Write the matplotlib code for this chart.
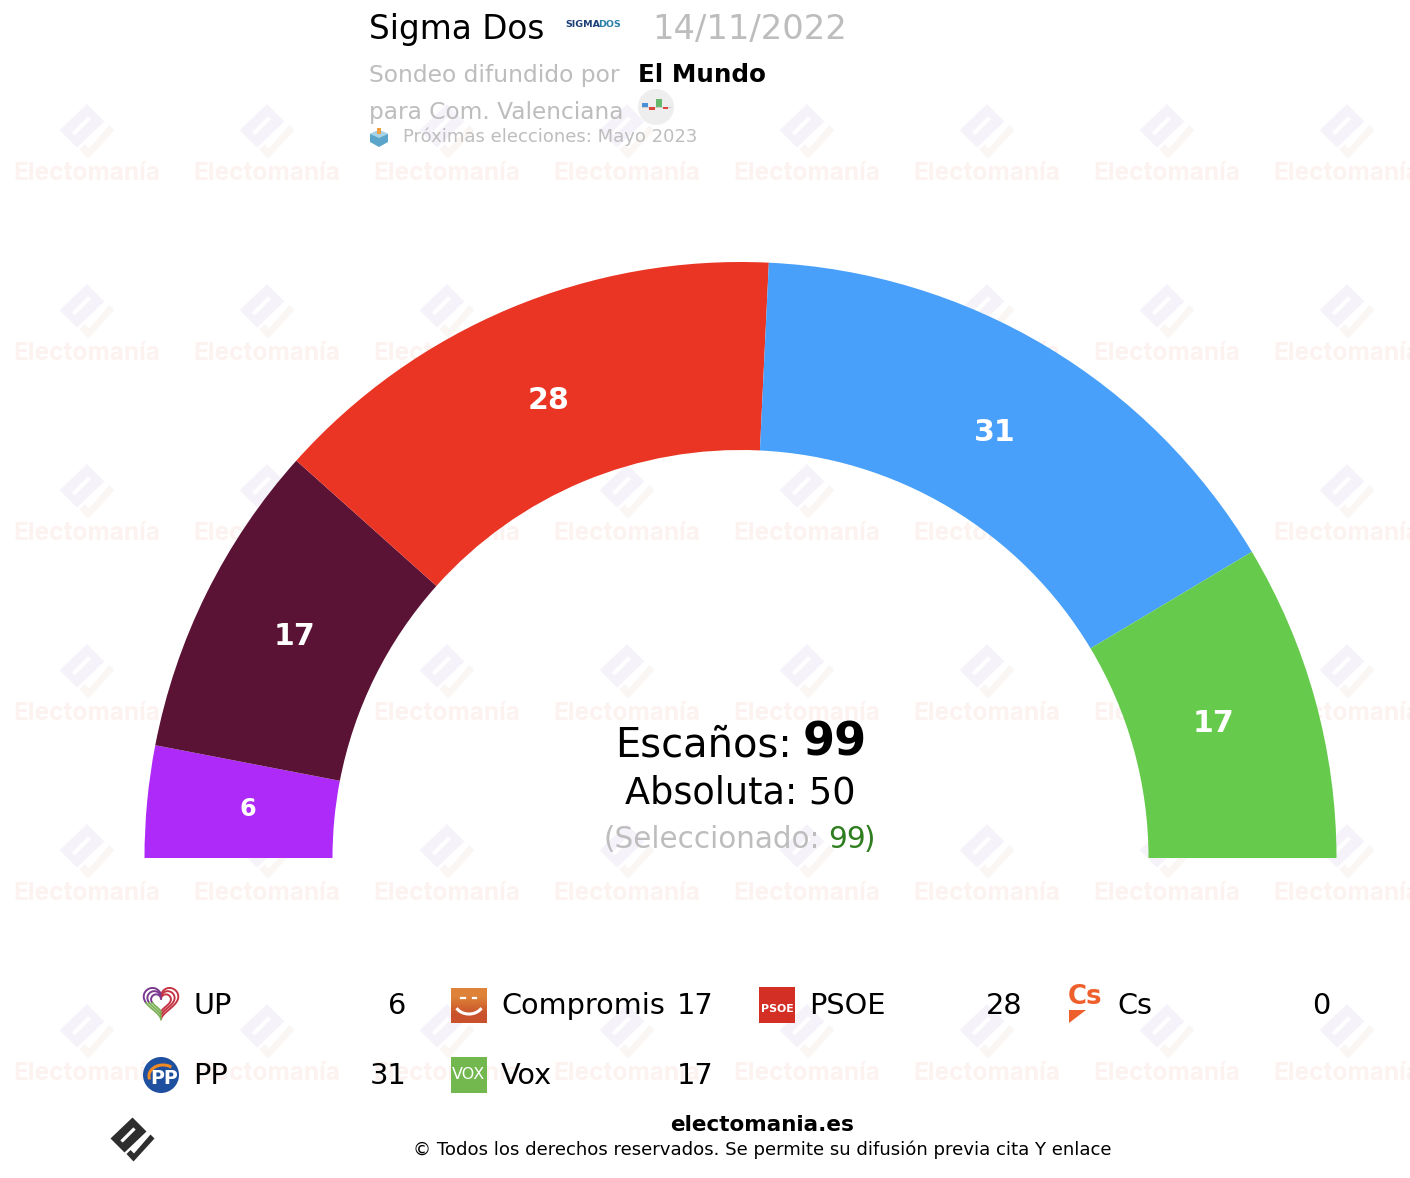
"""Sigma Dos seat projection for Com. Valenciana, parliament arc with legend."""

import matplotlib

matplotlib.use("Agg")
import matplotlib.pyplot as plt
import numpy as np
from matplotlib.patches import Circle, Polygon, Rectangle, Wedge

W, H = 1410, 1178

parties = ["UP", "Compromis", "PSOE", "Cs", "PP", "Vox"]
seats = [6, 17, 28, 0, 31, 17]
party_colors = ["#ae2af8", "#5a1235", "#ea3524", "#f05a28", "#48a0fa", "#66cb4c"]
total_seats = 99
majority = 50
selected = 99

CX, CY = 740.5, 858
R_OUT, R_IN = 596, 408
GREY = "#bdbdbd"
# radial spot and vertical nudge of each seat label, as placed in the reference
label_r = [495, 498, 496, 496, 496, 491]
label_dy = [-2, 0, 0, 0, 0, -4]

fig = plt.figure(figsize=(W / 100, H / 100), dpi=100)
ax = fig.add_axes([0, 0, 1, 1])
ax.set_xlim(0, W)
ax.set_ylim(0, H)
ax.axis("off")


def Y(py):
    # reference was measured from the top
    return H - py


def px(size):
    return size * 0.72


def text(x, y, s, size, color="black", weight="normal", ha="left", zorder=5, **kw):
    # va=center sits a bit high against the reference
    return ax.text(x, Y(y + 1.5), s, fontsize=px(size), color=color, fontweight=weight,
                   ha=ha, va="center", zorder=zorder, family="DejaVu Sans", **kw)


def draw_logo(cx, cy, scale, body, check, slot="white", zorder=1):
    def pts(rel):
        return [(cx + scale * a, Y(cy + scale * b)) for a, b in rel]

    ax.add_patch(Polygon(pts([(0, -22.5), (14, -8.5), (-8, 12.5), (-22, -1.5)]), fc=body, ec="none", zorder=zorder))
    ax.add_patch(Polygon(pts([(3.2, -10.4), (0.8, -12.6), (-12.2, 0.4), (-9.8, 2.6)]), fc=slot, ec="none", zorder=zorder))
    ax.add_patch(Polygon(pts([(22, -1.5), (1, 21.5), (-6, 14), (-2, 10), (1.5, 13.5), (18, -5.5)]),
                         fc=check, ec="none", zorder=zorder))


# ── watermark tiles ──
for tile_x in range(87, 1410 + 100, 180):
    for tile_y in range(132, 1178, 180):
        draw_logo(tile_x, tile_y, 1.24, "#f5f2f9", "#faf6f3", zorder=1)
    for tile_y in range(-8, 1178, 180):
        ax.text(tile_x, Y(tile_y + 1.5), "Electomanía", fontsize=px(24.5), color="#fcf2ef", fontweight="bold",
                ha="center", va="center", zorder=1, family="Inter", clip_on=True)

# ── seat arc ──
cum = 0
for i, (name, n, color) in enumerate(zip(parties, seats, party_colors)):
    if n > 0:
        a1 = 180 - (cum + n) / total_seats * 180
        a2 = 180 - cum / total_seats * 180
        ax.add_patch(Wedge((CX, Y(CY)), R_OUT, a1, a2, width=R_OUT - R_IN, fc=color, ec="none", zorder=3))
        mid = np.radians((a1 + a2) / 2)
        lx = CX + label_r[i] * np.cos(mid)
        ly = CY - label_r[i] * np.sin(mid) + label_dy[i]
        text(lx, ly - 1.5, str(n), 24 if n < 10 else 30, color="white", weight="bold", ha="center", zorder=4)
    cum += n

# ── centre totals ──
text(615, 744, "Escaños:", 40)
text(803, 742, str(total_seats), 46, weight="bold")
text(625, 792, f"Absoluta: {majority}", 36.6)
text(604, 838, "(Seleccionado:", 29.5, color=GREY)
text(828, 838, str(selected), 29.5, color="#2e7d1e")
text(864, 838, ")", 29.5, color="#2e7d1e")

# ── header ──
text(369, 28, "Sigma Dos", 32.8)
text(565, 23, "SIGMA", 9.5, color="#1c3f78", weight="bold")
text(598, 23, "DOS", 9.5, color="#2b80a8", weight="bold")
text(652, 28, "14/11/2022", 33.8, color=GREY)
text(369, 74, "Sondeo difundido por", 23.4, color=GREY)
text(638, 74, "El Mundo", 24.6, weight="bold")
text(369, 111, "para Com. Valenciana", 23.3, color=GREY)
text(403, 135, "Próximas elecciones: Mayo 2023", 18, color=GREY)

# small poll chart badge
ax.add_patch(Circle((656, Y(107)), 18, fc="#eeeeee", ec="none", zorder=4))
ax.plot([642, 670], [Y(107), Y(107)], color="#cccccc", lw=0.8, zorder=5)
for bx, by, bw, bh, bc in [(642, 103, 6, 4, "#4a90d9"), (649, 107, 6, 3, "#d9483b"),
                           (656, 99, 6, 8, "#66b96a"), (663, 107, 5, 2, "#d9483b")]:
    ax.add_patch(Rectangle((bx, Y(by + bh)), bw, bh, fc=bc, ec="none", zorder=5))

# ballot box
ax.add_patch(Polygon([(370, Y(134)), (379, Y(130)), (388, Y(134)), (388, Y(142)), (379, Y(147)), (370, Y(142))],
                     fc="#5aa5c9", ec="none", zorder=5))
ax.add_patch(Polygon([(370, Y(134)), (379, Y(138)), (388, Y(134)), (379, Y(130))], fc="#a6d3e8", ec="none", zorder=5))
ax.add_patch(Rectangle((377, Y(134)), 4, 6, fc="#f0a040", ec="none", zorder=6))

# ── legend ──
icon_x = [143, 451, 759, 1067, 143, 451]
row_y = [1005, 1005, 1005, 1005, 1075, 1075]
for i, (name, n) in enumerate(zip(parties, seats)):
    x0, y0 = icon_x[i], row_y[i]
    text(x0 + 50, y0, name, 28.8)
    text(x0 + 263, y0, str(n), 28.8, ha="right")


def draw_heart(cx, cy):
    t = np.linspace(0, 2 * np.pi, 200)
    hx = 16 * np.sin(t) ** 3
    hy = 13 * np.cos(t) - 5 * np.cos(2 * t) - 2 * np.cos(3 * t) - np.cos(4 * t)
    for k in [1.08, 0.85, 0.62]:
        xs = cx + k * hx
        ys = Y(cy) + k * (hy + 2)
        right = t < np.pi
        upper = (t >= np.pi) & (hy > -2)
        lower = (t >= np.pi) & (hy <= -2)
        ax.plot(xs[right], ys[right], color="#c53545", lw=1.4, zorder=5)
        ax.plot(xs[upper], ys[upper], color="#7b3a8f", lw=1.4, zorder=5)
        ax.plot(xs[lower], ys[lower], color="#7fb35a", lw=1.4, zorder=5)


draw_heart(161, 1003)

# Compromis square
ax.imshow(np.array([[0.0], [1.0]]), extent=(451, 487, Y(1023), Y(988)), aspect="auto", zorder=5,
          cmap=matplotlib.colors.LinearSegmentedColormap.from_list("cp", ["#dd8238", "#c9522c"]),
          interpolation="bilinear")
ax.set_xlim(0, W)
ax.set_ylim(0, H)
smile = np.linspace(np.radians(215), np.radians(325), 30)
ax.plot(469 + 14 * np.cos(smile), Y(1003) + 11 * np.sin(smile), color="white", lw=2.2, zorder=6)
ax.plot([461, 465], [Y(998), Y(998)], color="white", lw=1.6, zorder=6)
ax.plot([473, 476], [Y(998), Y(998)], color="white", lw=1.6, zorder=6)

# PSOE square
ax.add_patch(Rectangle((759, Y(1023)), 36, 36, fc="#d32f25", ec="none", zorder=5))
text(777, 1008, "PSOE", 11, color="white", weight="bold", ha="center", zorder=6)

# Cs mark
text(1068, 995, "Cs", 26, color="#ee5f2c", weight="bold", zorder=6)
ax.add_patch(Polygon([(1069, Y(1010)), (1086, Y(1010)), (1069, Y(1023))], fc="#ee5f2c", ec="none", zorder=6))

# PP badge
ax.add_patch(Circle((161, Y(1075)), 18, fc="#1f509f", ec="none", zorder=5))
arc = np.linspace(np.radians(60), np.radians(190), 30)
ax.plot(163 + 14 * np.cos(arc), Y(1076) + 11 * np.sin(arc), color="#f08a24", lw=2.2, zorder=6)
text(164, 1077, "PP", 19, color="white", weight="bold", ha="center", zorder=7)

# Vox square
ax.add_patch(Rectangle((451, Y(1093)), 36, 36, fc="#72b84f", ec="none", zorder=5))
text(469, 1073, "VOX", 16, color="white", ha="center", zorder=6)

# ── footer ──
draw_logo(132.5, 1140, 1.0, "#2e2e2e", "#2e2e2e", zorder=5)
text(762, 1123.5, "electomania.es", 21.5, weight="bold", ha="center")
text(762, 1148.5, "© Todos los derechos reservados. Se permite su difusión previa cita Y enlace", 18.1, ha="center")

fig.savefig("out.png", dpi=100, facecolor="white")
